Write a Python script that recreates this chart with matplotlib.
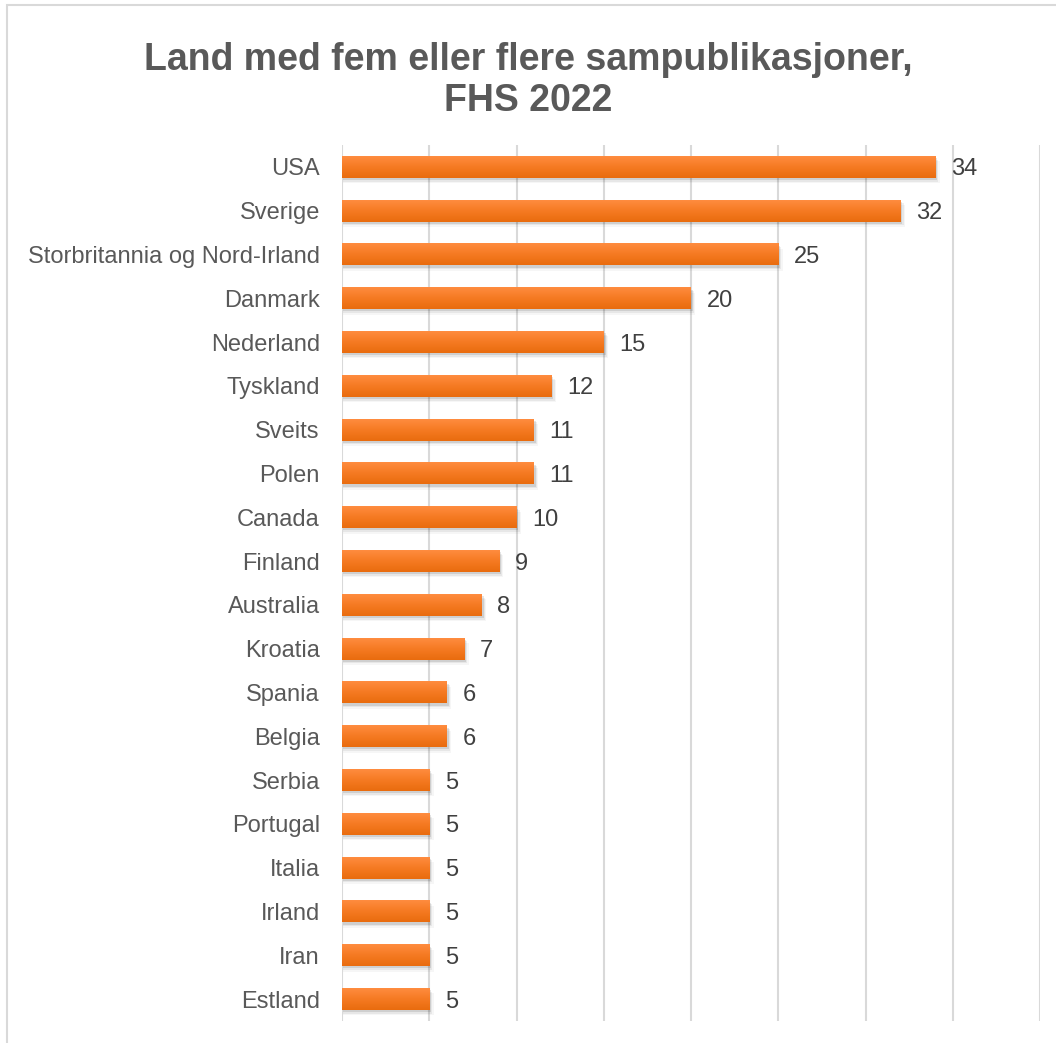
import numpy as np
import matplotlib.pyplot as plt
from matplotlib.patches import Rectangle
from matplotlib.colors import LinearSegmentedColormap

countries = ["USA", "Sverige", "Storbritannia og Nord-Irland", "Danmark", "Nederland",
             "Tyskland", "Sveits", "Polen", "Canada", "Finland", "Australia", "Kroatia",
             "Spania", "Belgia", "Serbia", "Portugal", "Italia", "Irland", "Iran", "Estland"]
counts = [34, 32, 25, 20, 15, 12, 11, 11, 10, 9, 8, 7, 6, 6, 5, 5, 5, 5, 5, 5]

plt.rcParams['font.family'] = ['Liberation Sans', 'DejaVu Sans']

fig = plt.figure(figsize=(10.56, 10.43), dpi=100)
ax = fig.add_axes([342/1056, 1 - 1021/1043, (1040 - 342)/1056, (1021 - 145)/1043])

y = np.arange(len(countries))
h = 0.5

# soft shadow under the bars
for k, a in enumerate([0.10, 0.06, 0.035]):
    ax.barh(y + 0.05 + k*0.035, np.array(counts) + 0.06 + k*0.07, height=h, left=0.05,
            color='black', alpha=a, zorder=2, linewidth=0)

# orange bars with a vertical gradient
cmap = LinearSegmentedColormap.from_list('og', ['#FF8C3F', '#F57A22', '#E96C0E'])
grad = np.linspace(0, 1, 64).reshape(-1, 1)
for yi, v in zip(y, counts):
    ax.imshow(grad, cmap=cmap, extent=[0, v, yi + h/2, yi - h/2], aspect='auto',
              zorder=3, interpolation='bilinear')
    ax.text(v + 0.9, yi, str(v), va='center_baseline', ha='left', fontsize=17, color='#404040')

ax.set_xlim(0, 40)
ax.set_ylim(len(countries) - 0.5, -0.5)
ax.set_xticks(np.arange(0, 41, 5))
ax.set_xticklabels([])
ax.tick_params(axis='x', length=0)
ax.tick_params(axis='y', length=0, pad=16, labelsize=17, labelcolor='#595959')
ax.set_yticks(y)
ax.set_yticklabels(countries)
ax.grid(axis='x', color='#D9D9D9', linewidth=1.5, zorder=0)
ax.set_axisbelow(True)
for s in ax.spines.values():
    s.set_visible(False)

fig.text(0.5, 1 - 60/1043, "Land med fem eller flere sampublikasjoner,", ha='center', va='center',
         fontsize=27, fontweight='bold', color='#595959')
fig.text(0.5, 1 - 101/1043, "FHS 2022", ha='center', va='center',
         fontsize=27, fontweight='bold', color='#595959')

fig.patches.append(Rectangle((7/1056, -0.01), 1.05, 1 - 5/1043 + 0.01, transform=fig.transFigure,
                             fill=False, edgecolor='#D9D9D9', linewidth=1.5))

fig.savefig('out.png', dpi=100)
